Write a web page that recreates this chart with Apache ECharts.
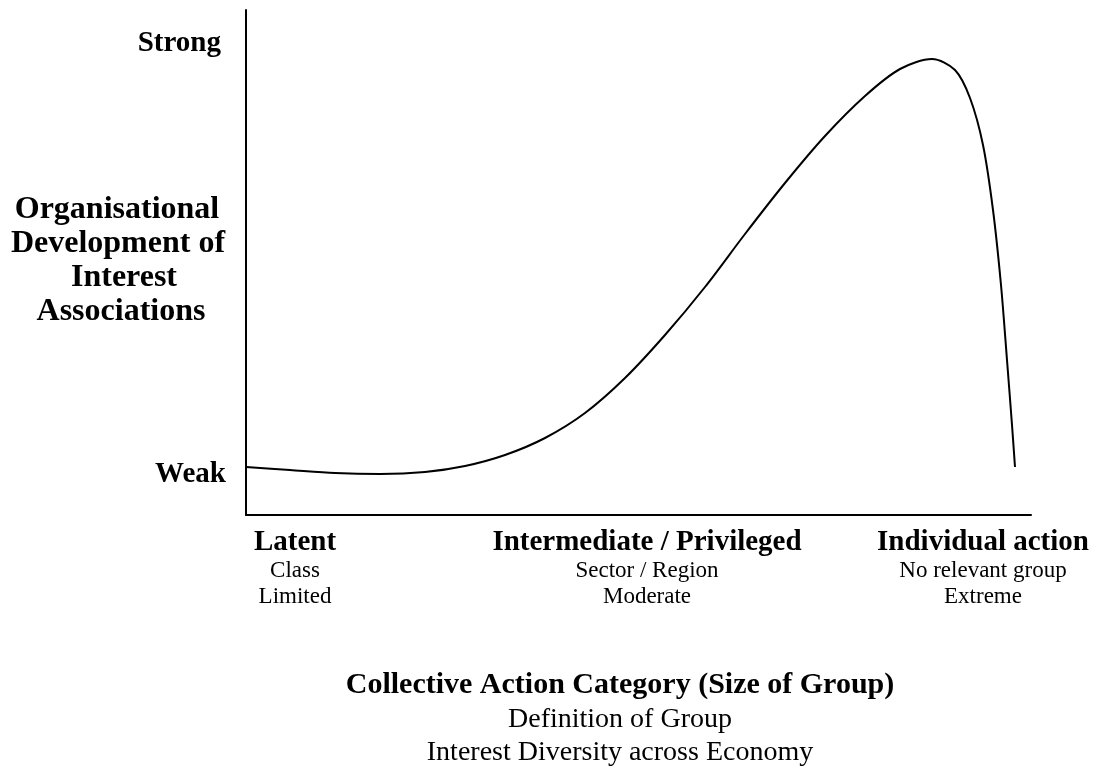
<!DOCTYPE html>
<html>
<head>
<meta charset="utf-8">
<script src="https://cdn.jsdelivr.net/npm/echarts@6/dist/echarts.min.js"></script>
<style>
    html, body { margin: 0; padding: 0; background: #fff; }
    #chart { width: 1101px; height: 773px; }
</style>
</head>
<body>
<div id="chart"></div>
<script>
// curve (x = group size, y = organisational development)
const curveX = [0, 44, 89, 134, 179, 219, 259, 299, 339, 379, 419, 459, 499, 539, 579, 619, 654, 686, 709, 724, 737, 747, 755, 761, 766, 769];
const curveY = [48, 45, 42, 41, 43, 49, 60, 77, 102, 137, 180, 228, 281, 332, 379, 419, 446, 456, 445, 417, 370, 305, 230, 155, 90, 48];

const yLevels = ['Strong', 'Weak'];
const yTitle = ['Organisational', 'Development of', 'Interest', 'Associations'];
const categories = ['Latent', 'Intermediate / Privileged', 'Individual action'];
const groupDefs = ['Class', 'Sector / Region', 'No relevant group'];
const diversity = ['Limited', 'Moderate', 'Extreme'];
const xTitle = ['Collective Action Category (Size of Group)', 'Definition of Group', 'Interest Diversity across Economy'];

const FONT = '"Liberation Serif", "Times New Roman", serif';

function txt(text, x, y, size, bold, align) {
    return {
        type: 'text',
        x: x,
        y: y,
        style: {
            text: text,
            fill: '#000',
            font: (bold ? 'bold ' : '') + size + 'px ' + FONT,
            textAlign: align || 'center',
            textVerticalAlign: 'middle'
        }
    }
}

const graphics = [];
graphics.push(txt(yLevels[0], 221, 44, 29, true, 'right'));
graphics.push(txt(yLevels[1], 226, 475, 29, true, 'right'));
const titleCenters = [117, 118, 124, 121];
yTitle.forEach(function (t, i) { graphics.push(txt(t, titleCenters[i], 210 + i * 34, 32, true)) });

const catCenters = [295, 647, 983];
categories.forEach(function (t, i) {
    graphics.push(txt(t, catCenters[i], 543, 29, true));
    graphics.push(txt(groupDefs[i], catCenters[i], 571, 23, false));
    graphics.push(txt(diversity[i], catCenters[i], 597, 23, false));
});

graphics.push(txt(xTitle[0], 620, 685, 30, true));
graphics.push(txt(xTitle[1], 620, 720, 28, false));
graphics.push(txt(xTitle[2], 620, 753, 28, false));

const chart = echarts.init(document.getElementById('chart'));

chart.setOption({
    backgroundColor: '#fff',
    animation: false,
    grid: {
        left: 246,
        top: 10,
        width: 785,
        height: 505
    },
    xAxis: {
        type: 'value',
        min: 0,
        max: 785,
        axisLine: { show: true, lineStyle: { color: '#000', width: 2 } },
        axisTick: { show: false },
        axisLabel: { show: false },
        splitLine: { show: false }
    },
    yAxis: {
        type: 'value',
        min: 0,
        max: 505,
        axisLine: { show: true, lineStyle: { color: '#000', width: 2 } },
        axisTick: { show: false },
        axisLabel: { show: false },
        splitLine: { show: false }
    },
    series: [
        {
            type: 'line',
            data: curveX.map(function (x, i) { return [x, curveY[i]] }),
            smooth: 0.3,
            symbol: 'none',
            lineStyle: { color: '#000', width: 2 }
        }
    ],
    graphic: graphics
})
</script>
</body>
</html>
